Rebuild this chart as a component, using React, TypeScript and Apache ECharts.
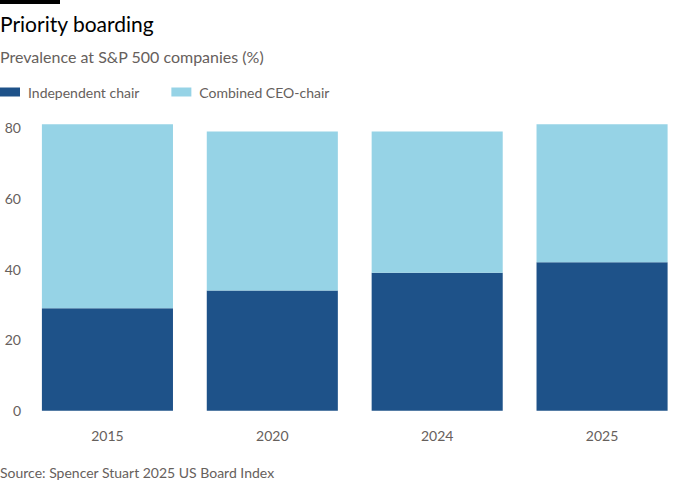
import React, { useEffect, useRef } from "react";
import * as echarts from "echarts";

const categories = ["2015", "2020", "2024", "2025"];
const independentChair = [29, 34, 39, 42];
const combinedCeoChair = [52, 45, 40, 39];
const seriesNames = ["Independent chair", "Combined CEO-chair"];
const yTicks = [0, 20, 40, 60, 80];

const FONT = "Lato, 'Noto Sans', sans-serif";
const DARK = "#1e5289";
const LIGHT = "#96d3e6";
const GREY = "#66605c";

export default function App() {
  const ref = useRef<HTMLDivElement>(null);
  useEffect(() => {
    if (!ref.current) return;
    const chart = echarts.init(ref.current, undefined, { renderer: "svg" });
    chart.setOption({
      animation: false,
      backgroundColor: "#ffffff",
      textStyle: { fontFamily: FONT },
      graphic: [
        { type: "rect", left: 0, top: 0, shape: { width: 60, height: 4 }, style: { fill: "#000" } },
        {
          type: "text",
          left: 0,
          top: 13,
          style: { text: "Priority boarding", fontSize: 21, fontFamily: FONT, fill: "#000" },
        },
        {
          type: "text",
          left: 0,
          top: 48,
          style: { text: "Prevalence at S&P 500 companies (%)", fontSize: 16, fontFamily: FONT, fill: GREY },
        },
        {
          type: "text",
          left: 0,
          top: 465,
          style: { text: "Source: Spencer Stuart 2025 US Board Index", fontSize: 14, fontFamily: FONT, fill: GREY },
        },
      ],
      legend: {
        left: -5,
        top: 80,
        itemWidth: 20,
        itemHeight: 9,
        itemGap: 32,
        icon: "rect",
        textStyle: { fontSize: 14, color: GREY, fontFamily: FONT, padding: [0, 0, 0, 3] },
        data: seriesNames,
      },
      grid: { left: 25, right: 15.5, top: 120.8, bottom: 89.3, containLabel: false },
      xAxis: {
        type: "category",
        data: categories,
        axisLine: { show: false },
        axisTick: { show: false },
        axisLabel: { color: GREY, fontSize: 14, margin: 18, fontFamily: FONT },
      },
      yAxis: {
        type: "value",
        min: 0,
        max: 82,
        interval: 20,
        splitLine: { show: false },
        axisLine: { show: false },
        axisTick: { show: false },
        axisLabel: {
          color: GREY,
          fontSize: 14,
          margin: 4,
          fontFamily: FONT,
          showMaxLabel: false,
          formatter: (v: number) => (yTicks.includes(v) ? String(v) : ""),
        },
      },
      series: [
        {
          name: seriesNames[0],
          type: "bar",
          stack: "total",
          data: independentChair,
          barCategoryGap: "20.5%",
          itemStyle: { color: DARK },
        },
        {
          name: seriesNames[1],
          type: "bar",
          stack: "total",
          data: combinedCeoChair,
          barCategoryGap: "20.5%",
          itemStyle: { color: LIGHT },
        },
      ],
    });
    return () => chart.dispose();
  }, []);
  return <div ref={ref} style={{ width: 700, height: 500, position: "absolute", left: 0, top: 0 }} />;
}
